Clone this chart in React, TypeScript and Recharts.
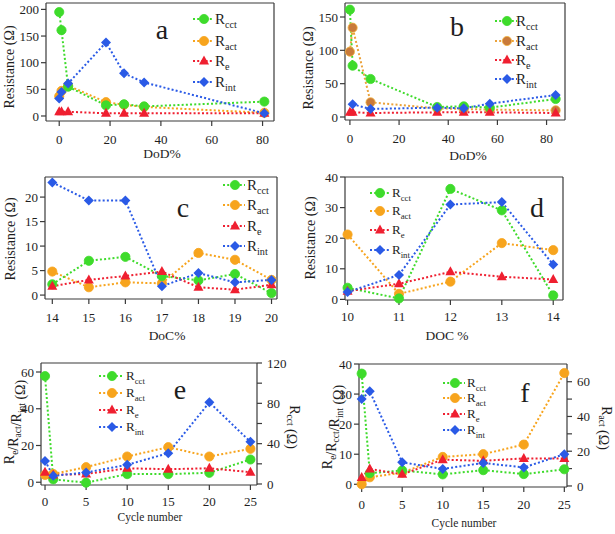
import React from "react";
import { LineChart, Line, XAxis, YAxis, ReferenceLine } from "recharts";

const FONT = "Liberation Serif, DejaVu Serif, Times New Roman, Times, serif";
const INK = "#1e1e1e";
const FRAME = "#3a3a3a";
const GREEN = "#3edb2b";
const ORANGE = "#f7a41d";
const RED = "#ef1f30";
const BLUE = "#2a5ae6";

// a: resistance vs DoD%
const dodA = [0, 0.9, 3.5, 18.4, 25.5, 33.4, 80.7];
const rcctA = [195, 161, 55, 20, 22, 18, 27];
const ractA = [37, 47, 57, 26, 21, 17, 6];
const reA = [8, 8, 8, 5, 5, 5, 5];
const rintA = [33, 45, 61, 138, 80, 63, 5];

// b: resistance vs DoD%
const dodB = [0, 1.1, 8.4, 35.5, 46.3, 56.9, 83.7];
const rcctB = [161, 77, 57, 15, 16, 14, 27];
const ractB = [98, 134, 22, 13, 12, 11, 10];
const reB = [7, 7, 6, 7, 7, 7, 6];
const rintB = [null, 19, 12, 14, 13, 20, 33];

// c: resistance vs DoC%
const docC = [14, 15, 16, 17, 18, 19, 20];
const rcctC = [2.2, 7, 7.8, 3.9, 3, 4.3, 0.4];
const ractC = [4.8, 1.6, 2.6, 2.4, 8.6, 7.2, 3.1];
const reC = [1.8, 3.1, 3.9, 4.8, 1.6, 1.1, 2.1];
const rintC = [23, 19.3, 19.3, 1.8, 4.5, 2.6, 3.1];

// d: resistance vs DOC %
const docD = [10, 11, 12, 13, 14];
const rcctD = [3.8, 0.3, 36.1, 29.1, 1.3];
const ractD = [21.2, 1.8, 5.8, 18.4, 16.1];
const reD = [2.7, 5.1, 9, 7.4, 6.5];
const rintD = [2.4, 8, 31, 31.8, 11.4];

// e, f: vs cycle number
const cycles = [0, 1, 5, 10, 15, 20, 25];
const rcctE = [107, 4.6, 1.3, 9.8, 9.8, 11.1, 24.3]; // right axis
const ractE = [4, 4.5, 8.2, 14, 19.1, 14, 18.2];
const reE = [5.5, 4, 4.5, 7.6, 7.1, 7.6, 5.5];
const rintE = [11.6, 3.5, 5.3, 9.5, 15.8, 43.5, 22];

const ractF = [1, 5, 7.7, 16.7, 18.3, 23.8, 65]; // right axis
const rcctF = [36.8, 3.7, 4.6, 3.3, 4.7, 3.4, 5];
const reF = [2.3, 5.1, 3.3, 8.2, 7.8, 8.6, 8.6];
const rintF = [28.4, 30.9, 7.3, 5.1, 7.1, 5.6, 10];

type Shape = "circle" | "triangle" | "diamond";
type Series = {
  key: string;
  sub: string;
  values: (number | null)[];
  color: string;
  fill?: string;
  edge?: string;
  shape: Shape;
  axis?: "l" | "r";
};

function drawShape(shape: Shape, cx: number, cy: number, fill: string, edge: string, key?: string) {
  if (shape === "circle") return <circle key={key} cx={cx} cy={cy} r={4.6} fill={fill} stroke={edge} strokeWidth={0.8} />;
  if (shape === "triangle")
    return <polygon key={key} points={`${cx},${cy - 5.5} ${cx - 5},${cy + 3.5} ${cx + 5},${cy + 3.5}`} fill={fill} />;
  return <polygon key={key} points={`${cx},${cy - 5} ${cx + 5},${cy} ${cx},${cy + 5} ${cx - 5},${cy}`} fill={fill} />;
}

function dotOf(s: Series) {
  return (p: any) => {
    const { cx, cy, index } = p;
    if (!Number.isFinite(cx) || !Number.isFinite(cy) || p.value == null) return <g key={`d${index}`} />;
    return drawShape(s.shape, cx, cy, s.fill ?? s.color, s.edge ?? s.fill ?? s.color, `d${index}`);
  };
}

function makeSeries(rcct: (number | null)[], ract: (number | null)[], re: (number | null)[], rint: (number | null)[]): Series[] {
  return [
    { key: "rcct", sub: "cct", values: rcct, color: GREEN, shape: "circle" },
    { key: "ract", sub: "act", values: ract, color: ORANGE, shape: "circle" },
    { key: "re", sub: "e", values: re, color: RED, shape: "triangle" },
    { key: "rint", sub: "int", values: rint, color: BLUE, shape: "diamond" },
  ];
}

const YW = 40;
const YR = 36;
const MT = 10;
const XH = 34;

interface PanelProps {
  box: [number, number, number, number];
  xs: number[];
  xDomain: [number, number];
  xTicks: number[];
  yDomain: [number, number];
  yTicks: number[];
  series: Series[];
  right?: { domain: [number, number]; ticks: number[]; every: number };
  tickGap?: number;
}

function Panel({ box, xs, xDomain, xTicks, yDomain, yTicks, series, right, tickGap = 9 }: PanelProps) {
  const [x0, y0, x1, y1] = box;
  const data = xs.map((x, i) => {
    const row: any = { x };
    series.forEach((s) => (row[s.key] = s.values[i]));
    return row;
  });
  const tickStyle = { fontSize: 13, fill: INK, fontFamily: FONT };
  const axisLine = { stroke: FRAME, strokeWidth: 1.2 };
  const tickLine = { stroke: FRAME, strokeWidth: 1.2 };
  // drawing order: orange, green, red, blue
  const order = [1, 0, 2, 3].map((i) => series[i]);
  return (
    <div style={{ position: "absolute", left: x0 - YW, top: y0 - MT }}>
      <LineChart
        width={x1 - x0 + YW + YR}
        height={y1 - y0 + MT + XH}
        data={data}
        margin={{ top: MT, right: 0, bottom: 0, left: 0 }}
        style={{ fontFamily: FONT }}
      >
        <XAxis
          type="number"
          dataKey="x"
          domain={xDomain}
          ticks={xTicks}
          height={XH}
          tickSize={5}
          tickMargin={tickGap}
          tick={tickStyle}
          axisLine={axisLine}
          tickLine={tickLine}
          interval={0}
        />
        <YAxis
          yAxisId="l"
          type="number"
          domain={yDomain}
          ticks={yTicks}
          width={YW}
          tickSize={5}
          tickMargin={2}
          tick={tickStyle}
          axisLine={axisLine}
          tickLine={tickLine}
          interval={0}
        />
        <YAxis
          yAxisId="r"
          orientation="right"
          type="number"
          domain={right ? right.domain : yDomain}
          ticks={right ? right.ticks : yTicks}
          width={YR}
          tickSize={5}
          tickMargin={5}
          tick={right ? tickStyle : false}
          tickFormatter={(v: number) => (right && v % right.every === 0 ? String(v) : "")}
          axisLine={axisLine}
          tickLine={tickLine}
          interval={0}
        />
        <ReferenceLine yAxisId="l" y={yDomain[1]} stroke={FRAME} strokeWidth={1.2} />
        {order.map((s) => (
          <Line
            key={s.key}
            yAxisId={s.axis ?? "l"}
            dataKey={s.key}
            type="linear"
            stroke={s.color}
            strokeWidth={2}
            strokeDasharray="2 2.2"
            dot={dotOf(s)}
            activeDot={false}
            connectNulls
            isAnimationActive={false}
          />
        ))}
      </LineChart>
    </div>
  );
}

function LegendRows({ sx, sw, mx, tx, ys, fs, series }: { sx: number; sw: number; mx: number; tx: number; ys: number[]; fs: number; series: Series[] }) {
  return (
    <g>
      {series.map((s, i) => (
        <g key={s.key}>
          <line x1={sx} x2={sx + sw} y1={ys[i]} y2={ys[i]} stroke={s.color} strokeWidth={2} strokeDasharray="2 2.2" />
          {drawShape(s.shape, sx + mx, ys[i], s.fill ?? s.color, s.edge ?? s.fill ?? s.color)}
          <text x={tx} y={ys[i] + fs * 0.33} fontSize={fs} fill={INK} style={{ fontFamily: FONT }}>
            R
            <tspan dy={fs * 0.27} fontSize={fs * 0.68}>
              {s.sub}
            </tspan>
          </text>
        </g>
      ))}
    </g>
  );
}

function VTitle({ x, y, rot, children }: { x: number; y: number; rot: number; children: React.ReactNode }) {
  return (
    <text transform={`translate(${x},${y}) rotate(${rot})`} textAnchor="middle" fontSize={14} fill={INK} style={{ fontFamily: FONT }}>
      {children}
    </text>
  );
}

function Sub({ t }: { t: string }) {
  return (
    <>
      <tspan dy={3.5} fontSize={9.5}>
        {t}
      </tspan>
      <tspan dy={-3.5}></tspan>
    </>
  );
}

export default function App() {
  const sA = makeSeries(rcctA, ractA, reA, rintA);
  const sB = makeSeries(rcctB, ractB, reB, rintB);
  sB[1] = { ...sB[1], color: "#eba23a", fill: "#c97a3a", edge: "#f2b23c" };
  const sC = makeSeries(rcctC, ractC, reC, rintC);
  const sD = makeSeries(rcctD, ractD, reD, rintD);
  const sE = makeSeries(rcctE, ractE, reE, rintE);
  sE[0] = { ...sE[0], axis: "r" };
  const sF = makeSeries(rcctF, ractF, reF, rintF);
  sF[1] = { ...sF[1], axis: "r" };

  const letter = (x: number, y: number, t: string) => (
    <text x={x} y={y} textAnchor="middle" fontSize={28} fill={INK} style={{ fontFamily: FONT }}>
      {t}
    </text>
  );
  const xTitle = (x: number, y: number, t: string, fs = 13.5) => (
    <text x={x} y={y} textAnchor="middle" fontSize={fs} fill={INK} style={{ fontFamily: FONT }}>
      {t}
    </text>
  );

  return (
    <div style={{ position: "absolute", left: 0, top: 0, width: 615, height: 534, background: "#fff", fontFamily: FONT, overflow: "hidden" }}>
      <Panel box={[46, 3, 274, 121]} xs={dodA} xDomain={[-5.2, 84.5]} xTicks={[0, 20, 40, 60, 80]} yDomain={[-9.4, 212]} yTicks={[0, 50, 100, 150, 200]} series={sA} />
      <Panel box={[345, 3, 565, 120]} xs={dodB} xDomain={[-2, 87.5]} xTicks={[0, 20, 40, 60, 80]} yDomain={[-4.5, 171]} yTicks={[0, 50, 100, 150]} series={sB} />
      <Panel box={[45, 177, 277, 299]} xs={docC} xDomain={[13.8, 20.15]} xTicks={docC} yDomain={[-0.8, 24.1]} yTicks={[0, 5, 10, 15, 20]} series={sC} />
      <Panel box={[345, 177, 563, 300]} xs={docD} xDomain={[9.95, 14.19]} xTicks={docD} yDomain={[-0.2, 40]} yTicks={[0, 10, 20, 30, 40]} series={sD} tickGap={7} />
      <Panel
        box={[41, 363, 257, 485]}
        xs={cycles}
        xDomain={[-0.49, 25.8]}
        xTicks={[0, 5, 10, 15, 20, 25]}
        yDomain={[-1.5, 64.9]}
        yTicks={[0, 20, 40, 60]}
        series={sE}
        right={{ domain: [-1, 120], ticks: [0, 20, 40, 60, 80, 100, 120], every: 40 }}
        tickGap={7}
      />
      <Panel
        box={[359, 364, 567, 487]}
        xs={cycles}
        xDomain={[-0.33, 25.33]}
        xTicks={[0, 5, 10, 15, 20, 25]}
        yDomain={[-0.9, 40]}
        yTicks={[0, 10, 20, 30, 40]}
        series={sF}
        right={{ domain: [-0.6, 70.2], ticks: [0, 10, 20, 30, 40, 50, 60], every: 20 }}
        tickGap={8}
      />

      <svg width={615} height={534} style={{ position: "absolute", left: 0, top: 0, pointerEvents: "none" }}>
        {letter(162, 38.5, "a")}
        {letter(457, 36, "b")}
        {letter(183, 216.5, "c")}
        {letter(537, 216.5, "d")}
        {letter(180, 399, "e")}
        {letter(525, 401.5, "f")}

        {xTitle(162, 158, "DoD%")}
        {xTitle(468, 160, "DoD%")}
        {xTitle(167, 340, "DoC%")}
        {xTitle(447, 340, "DOC %")}
        {xTitle(150, 521, "Cycle number", 11.5)}
        {xTitle(464, 527, "Cycle number", 11.5)}

        <VTitle x={14} y={67} rot={-90}>Resistance (Ω)</VTitle>
        <VTitle x={313} y={68} rot={-90}>Resistance (Ω)</VTitle>
        <VTitle x={15} y={239} rot={-90}>Resistance (Ω)</VTitle>
        <VTitle x={315} y={238} rot={-90}>Resistance (Ω)</VTitle>
        <VTitle x={14} y={422} rot={-90}>
          R<Sub t="e" />/R<Sub t="act" />/R<Sub t="int" /> (Ω)
        </VTitle>
        <VTitle x={290} y={427} rot={90}>
          R<Sub t="cct" /> (Ω)
        </VTitle>
        <VTitle x={332} y={427} rot={-90}>
          R<Sub t="e" />/R<Sub t="cct" />/R<Sub t="int" /> (Ω)
        </VTitle>
        <VTitle x={602} y={428} rot={90}>
          R<Sub t="act" /> (Ω)
        </VTitle>

        <LegendRows sx={193} sw={21} mx={11} tx={215} ys={[19, 41, 61, 82]} fs={15} series={sA} />
        <LegendRows sx={495} sw={22} mx={12} tx={516} ys={[21, 41, 60, 79]} fs={15} series={sB} />
        <LegendRows sx={223} sw={22} mx={12} tx={247} ys={[185, 205, 226, 246]} fs={15} series={sC} />
        <LegendRows sx={370} sw={20} mx={10} tx={392} ys={[193, 211, 230, 250]} fs={13} series={sD} />
        <LegendRows sx={99} sw={25} mx={13} tx={126} ys={[376, 393, 410, 427]} fs={13} series={sE} />
        <LegendRows sx={443} sw={22} mx={12} tx={467} ys={[383, 398, 414, 430]} fs={13} series={sF} />
      </svg>
    </div>
  );
}
